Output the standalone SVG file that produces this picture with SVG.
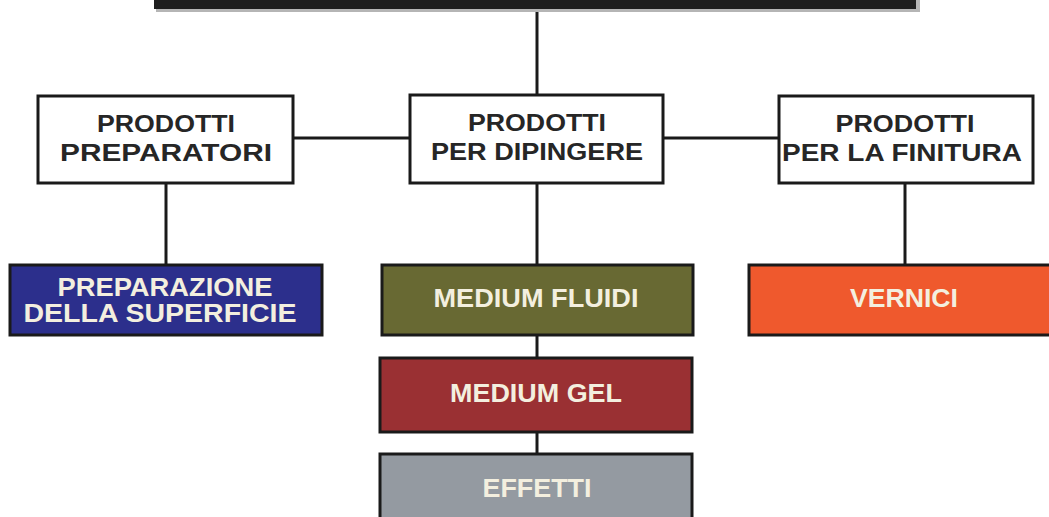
<svg xmlns="http://www.w3.org/2000/svg" width="1049" height="517" viewBox="0 0 1049 517">
<style>
.wbox{fill:#ffffff;stroke:#1a1a1a;stroke-width:3}
.cbox{stroke:#1a1a1a;stroke-width:3}
.dt{font-family:"Liberation Sans",Arial,sans-serif;font-weight:bold;font-size:23px;fill:#262626;text-anchor:middle}
.lt{font-family:"Liberation Sans",Arial,sans-serif;font-weight:bold;font-size:25px;fill:#f3efdf;text-anchor:middle}
.conn{stroke:#1a1a1a;stroke-width:3;fill:none}
</style>
<rect width="1049" height="517" fill="#ffffff"/>
<g id="connectors">
<line class="conn" x1="537" y1="10" x2="537" y2="96"/>
<line class="conn" x1="293" y1="138" x2="410" y2="138"/>
<line class="conn" x1="663" y1="138" x2="779" y2="138"/>
<line class="conn" x1="166" y1="183" x2="166" y2="265"/>
<line class="conn" x1="537" y1="183" x2="537" y2="265"/>
<line class="conn" x1="905" y1="183" x2="905" y2="265"/>
<line class="conn" x1="537" y1="335" x2="537" y2="358"/>
<line class="conn" x1="537" y1="432" x2="537" y2="454"/>
</g>
<g id="top">
<rect x="156" y="-6" width="764" height="18" fill="#b5b5b5"/>
<rect x="154" y="-8" width="762" height="17" fill="#1e1e1e"/>
</g>
<g id="preparatori">
<rect class="wbox" x="38" y="96" width="255" height="87"/>
<text class="dt" x="166" y="132" textLength="138" lengthAdjust="spacingAndGlyphs">PRODOTTI</text>
<text class="dt" x="166" y="161" textLength="212" lengthAdjust="spacingAndGlyphs">PREPARATORI</text>
</g>
<g id="dipingere">
<rect class="wbox" x="410" y="95" width="253" height="88"/>
<text class="dt" x="537" y="131" textLength="138" lengthAdjust="spacingAndGlyphs">PRODOTTI</text>
<text class="dt" x="537" y="160" textLength="212" lengthAdjust="spacingAndGlyphs">PER DIPINGERE</text>
</g>
<g id="finitura">
<rect class="wbox" x="779" y="96" width="254" height="87"/>
<text class="dt" x="905" y="132" textLength="139" lengthAdjust="spacingAndGlyphs">PRODOTTI</text>
<text class="dt" x="902" y="161" textLength="240" lengthAdjust="spacingAndGlyphs">PER LA FINITURA</text>
</g>
<g id="superficie">
<rect class="cbox" x="10" y="265" width="312" height="70" fill="#2c2f8c"/>
<text class="lt" x="165" y="296" font-size="23" textLength="215" lengthAdjust="spacingAndGlyphs">PREPARAZIONE</text>
<text class="lt" x="160" y="322" font-size="23" textLength="273" lengthAdjust="spacingAndGlyphs">DELLA SUPERFICIE</text>
</g>
<g id="fluidi">
<rect class="cbox" x="382" y="265" width="311" height="70" fill="#686933"/>
<text class="lt" x="536" y="307" textLength="205" lengthAdjust="spacingAndGlyphs">MEDIUM FLUIDI</text>
</g>
<g id="vernici">
<rect class="cbox" x="749" y="265" width="310" height="70" fill="#ef592d"/>
<text class="lt" x="904" y="307" textLength="108" lengthAdjust="spacingAndGlyphs">VERNICI</text>
</g>
<g id="gel">
<rect class="cbox" x="380" y="358" width="312" height="74" fill="#9a3033"/>
<text class="lt" x="536" y="402" textLength="172" lengthAdjust="spacingAndGlyphs">MEDIUM GEL</text>
</g>
<g id="effetti">
<rect class="cbox" x="380" y="454" width="312" height="70" fill="#949aa1"/>
<text class="lt" x="537" y="497" textLength="109" lengthAdjust="spacingAndGlyphs">EFFETTI</text>
</g>
</svg>
